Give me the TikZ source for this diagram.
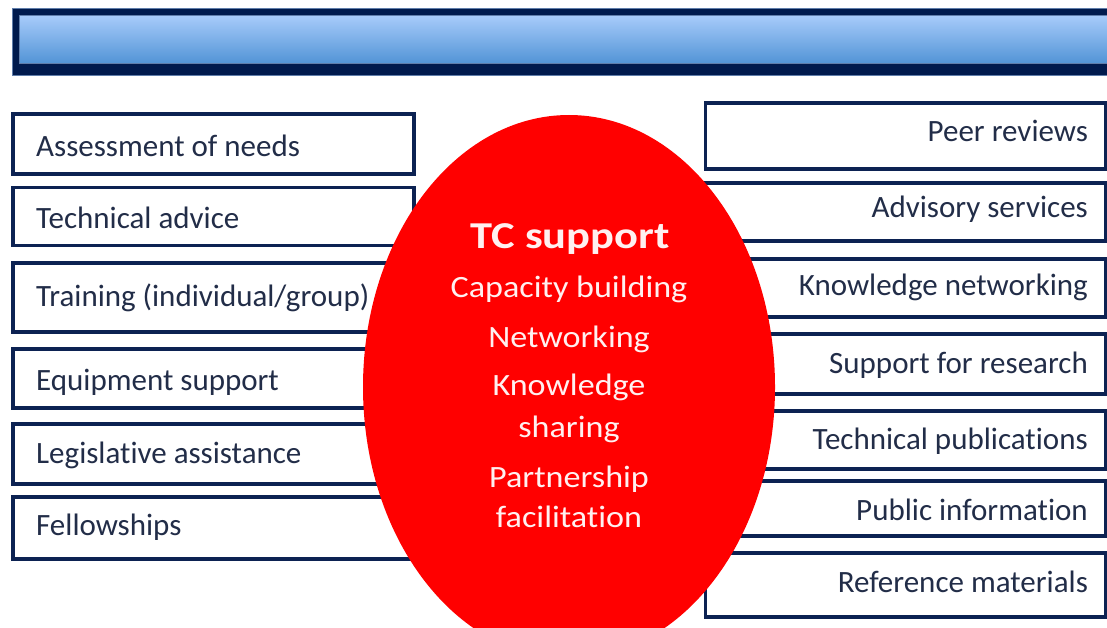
\documentclass[tikz,border=0pt]{standalone}
\usepackage{fontspec}
\setmainfont{Carlito}[Ligatures=NoCommon]
\usetikzlibrary{shapes.geometric}
\definecolor{navy}{RGB}{12,34,82}
\definecolor{bardark}{RGB}{0,26,77}
\definecolor{barrim}{RGB}{95,125,170}
\definecolor{bartop}{RGB}{167,203,250}
\definecolor{barbot}{RGB}{82,148,214}
\definecolor{itemtext}{RGB}{34,45,72}
\definecolor{tcred}{RGB}{255,0,0}
\definecolor{tctext}{RGB}{255,240,240}
\tikzset{
  itembox/.style={draw=navy, line width=3.5pt, fill=white, inner sep=0pt},
  lefttext/.style={anchor=base west, inner sep=0pt, text=itemtext, font=\fontsize{31}{37}\selectfont},
  righttext/.style={anchor=base east, inner sep=0pt, text=itemtext, font=\fontsize{31}{37}\selectfont},
  tchead/.style={anchor=base, inner sep=0pt, text=tctext, font=\bfseries\fontsize{38}{44}\selectfont, xscale=1.17},
  tcline/.style={anchor=base, inner sep=0pt, text=tctext, font=\fontsize{31}{37}\selectfont, xscale=1.1},
}
\begin{document}
\begin{tikzpicture}[x=1pt, y=-1pt]
\useasboundingbox (0,0) rectangle (1107,628);
\clip (0,0) rectangle (1107,628);
\fill[white] (0,0) rectangle (1107,628);

% title bar
\node[draw=barrim, line width=1pt, fill=bardark, inner sep=0pt, minimum width=1110pt, minimum height=67pt, anchor=north west] (bar) at (12,8) {};
\node[draw=barrim, line width=0.8pt, top color=bartop, bottom color=barbot, inner sep=0pt, minimum width=1100pt, minimum height=48pt, anchor=north west] (barin) at (19,15) {};

% left column boxes
\node[itembox, minimum width=401pt, minimum height=60pt] (l1) at (213.5,144) {};
\node[itembox, minimum width=401pt, minimum height=58pt] (l2) at (213.5,216.5) {};
\node[itembox, minimum width=401pt, minimum height=69pt] (l3) at (213.5,297.5) {};
\node[itembox, minimum width=401pt, minimum height=59pt] (l4) at (213.5,378.5) {};
\node[itembox, minimum width=401pt, minimum height=60pt] (l5) at (213.5,454) {};
\node[itembox, minimum width=401pt, minimum height=62pt] (l6) at (213.5,528) {};

\node[lefttext] (t1) at (36,157) {Assessment of needs};
\node[lefttext] (t2) at (36,229) {Technical advice};
\node[lefttext] (t3) at (36,306) {Training (individual/group)};
\node[lefttext] (t4) at (36,390) {Equipment support};
\node[lefttext] (t5) at (36,463) {Legislative assistance};
\node[lefttext] (t6) at (36,535) {Fellowships};

% right column boxes
\node[itembox, minimum width=400pt, minimum height=66pt] (r1) at (905.5,136) {};
\node[itembox, minimum width=400pt, minimum height=58pt] (r2) at (905.5,212) {};
\node[itembox, minimum width=400pt, minimum height=58pt] (r3) at (905.5,288) {};
\node[itembox, minimum width=400pt, minimum height=60pt] (r4) at (905.5,364) {};
\node[itembox, minimum width=400pt, minimum height=58pt] (r5) at (905.5,440) {};
\node[itembox, minimum width=400pt, minimum height=55pt] (r6) at (905.5,508.5) {};
\node[itembox, minimum width=400pt, minimum height=64pt] (r7) at (905.5,585) {};

\node[righttext] (s1) at (1088,142) {Peer reviews};
\node[righttext] (s2) at (1088,218) {Advisory services};
\node[righttext] (s3) at (1088,295) {Knowledge networking};
\node[righttext] (s4) at (1088,373) {Support for research};
\node[righttext] (s5) at (1088,449) {Technical publications};
\node[righttext] (s6) at (1088,520) {Public information};
\node[righttext] (s7) at (1088,592) {Reference materials};

% central ellipse
\node[ellipse, fill=tcred, inner sep=0pt, minimum width=412pt, minimum height=544pt] (tc) at (569,387) {};
\node[tchead] (h0) at (570,248) {TC support};
\node[tcline] (h1) at (569,297) {Capacity building};
\node[tcline] (h2) at (569,347) {Networking};
\node[tcline] (h3) at (569,395) {Knowledge};
\node[tcline] (h4) at (569,437) {sharing};
\node[tcline] (h5) at (569,487) {Partnership};
\node[tcline] (h6) at (569,527) {facilitation};
\end{tikzpicture}
\end{document}
